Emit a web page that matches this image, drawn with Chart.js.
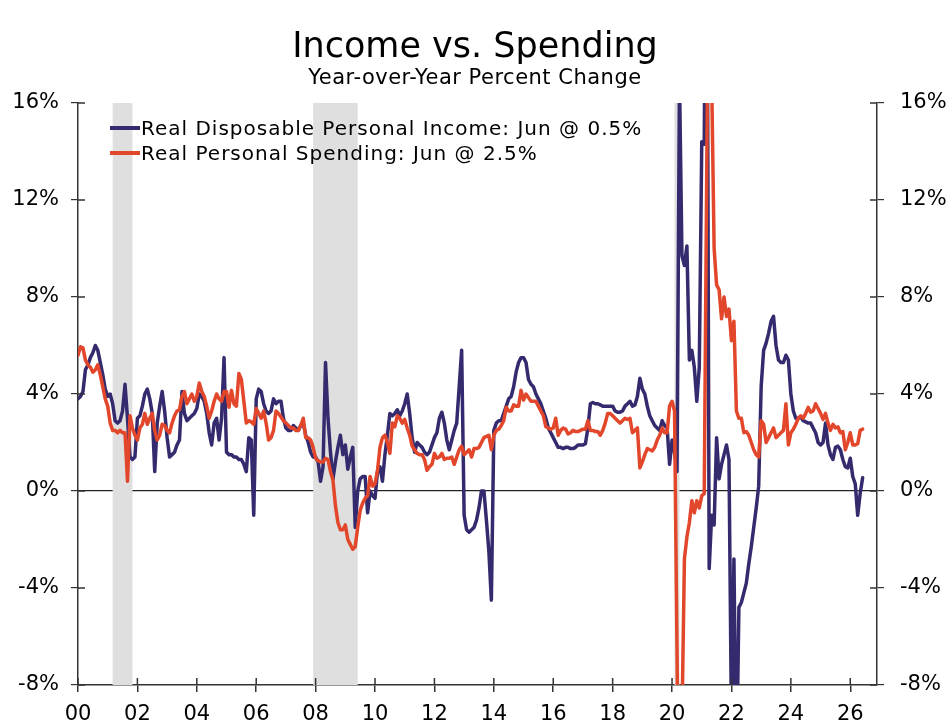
<!DOCTYPE html>
<html>
<head>
<meta charset="utf-8">
<title>Income vs. Spending</title>
<script src="https://cdn.jsdelivr.net/npm/chart.js@4.4.1/dist/chart.umd.min.js"></script>
<style>
  body { margin: 0; background: #fff; font-family: "DejaVu Sans", Verdana, sans-serif; color: #000; }
  #wrap { position: relative; width: 950px; height: 728px; }
  #wrap canvas { position: absolute; left: 0; top: 0; }
  .head { position: absolute; left: 0; width: 950px; text-align: center; white-space: nowrap; }
  #title { top: 24px; font-size: 35px; line-height: 42px; }
  #subtitle { top: 64px; font-size: 21px; line-height: 26px; letter-spacing: 0.5px; }
  .key { position: absolute; left: 110px; font-size: 20px; line-height: 24px; letter-spacing: 1px; white-space: nowrap; }
  .key span { display: inline-block; width: 30px; height: 4px; vertical-align: middle; margin-right: 1px; position: relative; top: -2px; }
</style>
</head>
<body>
<div id="wrap">
  <canvas id="chart" width="950" height="728"></canvas>
  <div class="head" id="title">Income vs. Spending</div>
  <div class="head" id="subtitle">Year-over-Year Percent Change</div>
  <div class="key" style="top:116px"><span style="background:#342b6f"></span>Real Disposable Personal Income: Jun @ 0.5%</div>
  <div class="key" style="top:141px"><span style="background:#e2472b"></span>Real Personal Spending: Jun @ 2.5%</div>
</div>
<script>
// monthly, Jan 2000 .. Jun 2026, year-over-year % change
const income = [
  3.8, 3.9, 4.1, 5.0, 5.2, 5.5, 5.7, 6.0, 5.8, 5.3, 4.8, 4.2,      // 2000
  3.9, 4.0, 3.6, 2.9, 2.8, 2.9, 3.3, 4.4, 3.0, 1.4, 1.3, 1.4,      // 2001
  3.0, 3.1, 3.5, 4.0, 4.2, 3.8, 3.2, 0.8, 2.8, 3.5, 4.1, 3.3,      // 2002
  2.2, 1.4, 1.5, 1.6, 1.9, 2.1, 4.1, 3.2, 2.9, 3.0, 3.1, 3.2,      // 2003
  3.4, 4.0, 3.9, 3.7, 3.2, 2.4, 1.9, 2.8, 3.0, 2.1, 3.0, 5.5,      // 2004
  1.6, 1.5, 1.5, 1.4, 1.4, 1.3, 1.3, 1.1, 0.8, 2.2, 2.1, -1.0,     // 2005
  3.8, 4.2, 4.1, 3.6, 3.3, 3.2, 3.3, 3.8, 3.6, 3.7, 3.7, 3.0,      // 2006
  2.6, 2.5, 2.5, 2.7, 2.6, 2.5, 2.7, 2.8, 2.3, 2.0, 1.6, 1.4,      // 2007
  1.4, 1.2, 0.4, 1.0, 5.3, 3.0, 1.6, 0.5, 1.2, 1.8, 2.3, 1.5,      // 2008
  1.9, 0.9, 1.4, 1.8, -1.5, 0.0, 0.5, 0.6, 0.6, -0.9, 0.0, -0.2,   // 2009
  -0.3, 0.8, 1.0, 0.4, 1.5, 2.3, 3.2, 3.1, 3.2, 3.35, 3.1, 3.3,    // 2010
  3.6, 4.0, 3.2, 2.2, 1.6, 2.0, 1.9, 1.8, 1.6, 1.5, 1.6, 1.9,      // 2011
  2.2, 2.4, 3.0, 3.25, 2.8, 2.1, 1.7, 2.1, 2.5, 2.8, 4.3, 5.8,     // 2012
  -1.0, -1.6, -1.7, -1.6, -1.5, -1.2, -0.7, 0.0, 0.0, -1.2, -2.5, -4.5, // 2013
  2.5, 2.8, 2.9, 2.9, 3.2, 3.5, 3.8, 3.9, 4.3, 4.9, 5.3, 5.5,      // 2014
  5.5, 5.3, 4.6, 4.4, 4.3, 4.0, 3.8, 3.6, 3.3, 3.0, 2.6, 2.4,      // 2015
  2.2, 2.0, 1.8, 1.8, 1.75, 1.8, 1.8, 1.75, 1.75, 1.8, 1.9, 1.9,   // 2016
  1.9, 1.95, 2.6, 3.6, 3.65, 3.6, 3.6, 3.55, 3.5, 3.5, 3.5, 3.5,   // 2017
  3.5, 3.3, 3.25, 3.25, 3.3, 3.5, 3.6, 3.7, 3.5, 3.55, 3.9, 4.65,  // 2018
  4.2, 4.0, 3.5, 3.1, 2.9, 2.7, 2.6, 2.5, 2.9, 2.7, 2.6, 1.1,      // 2019
  2.1, 1.6, 0.8, 17.0, 9.7, 9.3, 10.1, 5.4, 5.8, 5.1, 3.7, 5.1,    // 2020
  14.4, 14.3, 28.0, -3.2, -1.0, -1.4, 2.2, 0.5, 1.1, 1.5, 1.9, 1.3, // 2021
  -9.5, -2.8, -12.0, -4.8, -4.6, -4.2, -3.8, -3.0, -2.3, -1.5, -0.7, 0.2, // 2022
  4.3, 5.8, 6.1, 6.5, 7.0, 7.2, 6.0, 5.4, 5.3, 5.3, 5.6, 5.4,      // 2023
  4.0, 3.3, 3.0, 3.0, 3.05, 2.9, 2.85, 2.8, 2.8, 2.6, 2.4, 2.0,    // 2024
  1.9, 2.0, 2.8, 1.9, 1.5, 1.3, 1.8, 1.85, 1.7, 1.3, 1.0, 0.95,    // 2025
  1.35, 0.6, 0.3, -1.0, -0.1, 0.55                                 // 2026
];

const spending = [
  5.6, 5.95, 5.9, 5.4, 5.2, 5.1, 4.9, 5.0, 5.2, 4.8, 4.3, 3.8,     // 2000
  3.5, 2.8, 2.5, 2.5, 2.4, 2.5, 2.4, 2.4, 0.4, 3.1, 2.6, 2.3,      // 2001
  2.1, 2.6, 2.75, 3.2, 2.75, 3.0, 3.2, 2.5, 2.1, 2.3, 2.75, 2.7,   // 2002
  2.5, 2.4, 2.8, 3.1, 3.3, 3.35, 3.9, 4.1, 3.6, 3.8, 4.0, 3.7,     // 2003
  3.9, 4.45, 4.1, 3.9, 3.5, 3.0, 3.3, 3.7, 4.0, 3.8, 3.7, 4.1,     // 2004
  4.1, 3.45, 4.15, 3.6, 3.5, 4.85, 4.6, 3.7, 2.8, 2.9, 2.85, 2.75, // 2005
  3.4, 3.2, 3.0, 3.3, 2.8, 2.1, 2.2, 2.5, 3.3, 3.2, 3.05, 2.9,     // 2006
  2.8, 2.7, 2.6, 2.6, 2.5, 2.5, 2.7, 3.0, 2.2, 2.2, 2.1, 1.8,      // 2007
  1.35, 1.25, 1.2, 1.2, 1.35, 1.3, 0.8, 0.45, -0.6, -1.3, -1.6, -1.6, // 2008
  -1.4, -2.0, -2.2, -2.4, -2.3, -1.5, -0.8, -0.5, -0.3, -0.2, 0.6, 0.2, // 2009
  0.3, 0.85, 1.8, 2.2, 2.3, 2.0, 1.55, 2.8, 2.65, 3.1, 3.0, 2.8,   // 2010
  2.95, 2.6, 2.3, 1.85, 1.7, 1.55, 1.5, 1.5, 1.3, 0.85, 1.0, 1.1,  // 2011
  1.55, 1.35, 1.4, 1.55, 1.3, 1.35, 1.35, 1.4, 1.1, 1.4, 1.7, 1.85, // 2012
  1.5, 1.6, 1.7, 1.4, 1.75, 1.75, 1.8, 2.0, 2.2, 2.25, 2.3, 1.7,   // 2013
  2.3, 2.5, 2.55, 2.7, 2.9, 3.45, 3.3, 3.3, 3.55, 3.5, 3.5, 4.15,  // 2014
  3.75, 4.0, 3.85, 3.7, 3.7, 3.7, 3.5, 3.3, 3.1, 2.65, 2.6, 2.55,  // 2015
  2.6, 3.0, 2.3, 2.5, 2.6, 2.55, 2.35, 2.4, 2.5, 2.45, 2.45, 2.5,  // 2016
  2.55, 2.55, 2.9, 2.5, 2.5, 2.45, 2.45, 2.3, 2.5, 2.8, 3.2, 3.2,  // 2017
  3.1, 3.0, 2.9, 2.8, 2.9, 3.0, 2.95, 3.0, 2.4, 2.5, 2.6, 0.95,    // 2018
  1.2, 1.5, 1.75, 1.7, 1.65, 1.8, 2.1, 2.3, 2.6, 2.4, 2.4, 3.5,    // 2019
  3.7, 3.3, -6.5, -17.0, -9.5, -2.8, -1.9, -1.3, -0.4, -0.9, -0.4, -0.7, // 2020
  -0.2, -0.1, 13.0, 26.0, 17.0, 10.0, 8.5, 8.3, 7.1, 8.0, 7.2, 7.5, // 2021
  6.2, 7.0, 3.3, 3.0, 3.0, 2.4, 2.45, 2.3, 2.0, 1.7, 1.5, 1.4,     // 2022
  2.9, 2.75, 2.0, 2.2, 2.4, 2.6, 2.2, 2.3, 2.4, 2.5, 3.6, 1.9,     // 2023
  2.4, 2.55, 2.75, 3.0, 3.1, 3.0, 3.2, 3.45, 3.25, 3.3, 3.6, 3.4,  // 2024
  3.2, 2.95, 3.2, 2.8, 2.5, 2.75, 2.6, 2.65, 2.4, 2.45, 1.7, 2.0,  // 2025
  2.4, 1.9, 1.9, 1.95, 2.5, 2.55                                   // 2026
];

const yearLabels = ['00', '02', '04', '06', '08', '10', '12', '14', '16', '18', '20', '22', '24', '26'];
const yTicks = [-8, -4, 0, 4, 8, 12, 16];
// recessions, in years since Jan 2000
const recessions = [[1.167, 1.833], [7.917, 9.417], [20.083, 20.25]];

const toPoints = arr => arr.map((v, i) => ({ x: i / 12, y: v }));

const axisColor = '#333';
const tickFont = { family: '"DejaVu Sans", Verdana, sans-serif', size: 21 };

const shading = {
  id: 'shading',
  beforeDatasetsDraw(chart) {
    const { ctx, chartArea, scales } = chart;
    ctx.save();
    ctx.fillStyle = '#dfdfdf';
    recessions.forEach(r => {
      const x0 = scales.x.getPixelForValue(r[0]);
      const x1 = scales.x.getPixelForValue(r[1]);
      ctx.fillRect(x0, chartArea.top, x1 - x0, chartArea.bottom - chartArea.top);
    });
    ctx.restore();
  }
};

// inner half of the tick marks, so they cross the axis lines
const innerTicks = {
  id: 'innerTicks',
  afterDraw(chart) {
    const { ctx, chartArea, scales } = chart;
    ctx.save();
    ctx.strokeStyle = axisColor;
    ctx.lineWidth = 1.5;
    ctx.beginPath();
    yTicks.forEach(v => {
      const y = scales.y.getPixelForValue(v);
      ctx.moveTo(chartArea.left, y);
      ctx.lineTo(chartArea.left + 7, y);
      ctx.moveTo(chartArea.right - 7, y);
      ctx.lineTo(chartArea.right, y);
    });
    yearLabels.forEach((l, i) => {
      const x = scales.x.getPixelForValue(i * 2);
      ctx.moveTo(x, chartArea.bottom);
      ctx.lineTo(x, chartArea.bottom - 7);
    });
    ctx.stroke();
    ctx.restore();
  }
};

const yScale = (pos) => ({
  position: pos,
  min: -8,
  max: 16,
  afterBuildTicks: s => { s.ticks = yTicks.map(v => ({ value: v })); },
  afterFit: s => { s.width = pos === 'left' ? 78 : 73; },
  ticks: { font: tickFont, color: '#000', padding: pos === 'left' ? 12 : 16, callback: v => v + '%' },
  grid: {
    drawOnChartArea: pos === 'left',
    color: c => (c.tick && c.tick.value === 0) ? '#222' : 'rgba(0,0,0,0)',
    lineWidth: 1.2,
    tickColor: axisColor,
    tickLength: 7
  },
  border: { color: axisColor, width: 1.5 }
});

new Chart(document.getElementById('chart'), {
  type: 'line',
  data: {
    datasets: [
      {
        label: 'Real Disposable Personal Income: Jun @ 0.5%',
        data: toPoints(income),
        borderColor: '#342b6f',
        borderWidth: 3.5,
        order: 1
      },
      {
        label: 'Real Personal Spending: Jun @ 2.5%',
        data: toPoints(spending),
        borderColor: '#e2472b',
        borderWidth: 3.5,
        order: 0
      }
    ]
  },
  options: {
    responsive: false,
    animation: false,
    events: [],
    layout: { padding: { top: 103, left: 0, right: 0, bottom: 0 } },
    elements: {
      point: { radius: 0 },
      line: { tension: 0, borderJoinStyle: 'round', borderCapStyle: 'round' }
    },
    datasets: { line: { clip: 0 } },
    plugins: { legend: { display: false }, tooltip: { enabled: false } },
    scales: {
      x: {
        type: 'linear',
        min: 0,
        max: 26.9,
        afterBuildTicks: s => { s.ticks = yearLabels.map((l, i) => ({ value: i * 2 })); },
        afterFit: s => { s.height = 43; },
        ticks: { font: tickFont, color: '#000', padding: 10, maxRotation: 0, autoSkip: false,
                 callback: (v, i) => yearLabels[i] },
        grid: { drawOnChartArea: false, tickColor: axisColor, tickLength: 7, lineWidth: 1.5 },
        border: { color: axisColor, width: 1.5 }
      },
      y: yScale('left'),
      y2: yScale('right')
    }
  },
  plugins: [shading, innerTicks]
});
</script>
</body>
</html>
